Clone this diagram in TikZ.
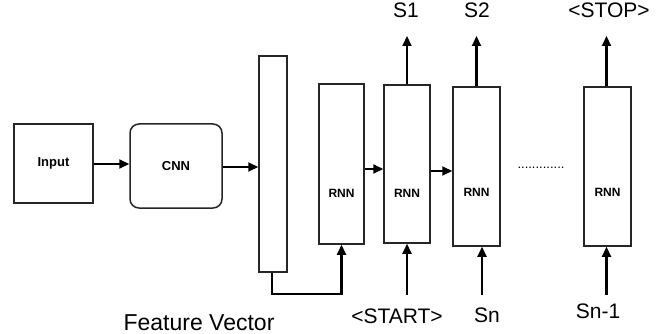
\documentclass[tikz,border=0pt]{standalone}
\usepackage{fontspec}
\setmainfont{Liberation Sans}
\usetikzlibrary{arrows.meta}
\begin{document}
\begin{tikzpicture}[x=1pt,y=-1pt,
  box/.style={draw=black!85, line width=1.5pt, inner sep=0pt},
  rnnbox/.style={box, minimum width=46pt, minimum height=159pt},
  small/.style={font=\bfseries\fontsize{13}{15}\selectfont},
  rnnlab/.style={font=\bfseries\fontsize{12}{14}\selectfont},
  biglab/.style={font=\fontsize{21}{25}\selectfont, inner sep=0pt, anchor=base},
  arr/.style={line width=2.1pt, -{Triangle[length=10pt,width=9pt]}}
]
\useasboundingbox (0,0) rectangle (656,334);
% boxes
\node[box, small, minimum width=79pt, minimum height=79pt] (in) at (53.5,163.5) {Input};
\node[box, small, rounded corners=9pt, minimum width=92pt, minimum height=84pt] (cnn) at (176,166) {CNN};
\node[box, minimum width=28pt, minimum height=216pt] (fv) at (273,164) {};
\node[rnnbox, minimum width=45pt, minimum height=160pt, label={[rnnlab, yshift=-29pt]center:RNN}] (r0) at (341.5,164) {};
\node[rnnbox, minimum height=158pt, label={[rnnlab, yshift=-29pt]center:RNN}] (r1) at (407,164) {};
\node[rnnbox, minimum width=47pt, label={[rnnlab, yshift=-26pt]center:RNN}] (r2) at (476.5,166.5) {};
\node[rnnbox, minimum width=47pt, label={[rnnlab, yshift=-26pt]center:RNN}] (r3) at (607.5,166.5) {};
% dots
\node[font=\fontsize{13}{15}\selectfont, inner sep=0pt] (dots) at (541,168) {.............};
% labels
\node[biglab] (s1) at (406,18) {S1};
\node[biglab] (s2) at (477,18) {S2};
\node[biglab] (stop) at (609,18) {<STOP>};
\node[biglab] (start) at (397,323) {<START>};
\node[biglab] (sn) at (487,322) {Sn};
\node[biglab] (sn1) at (598,318) {Sn-1};
\node[biglab, font=\fontsize{23}{27}\selectfont] (fvl) at (199,330) {Feature Vector};
% connectors
\draw[arr] (in.east |- 0,164) -- (cnn.west |- 0,164);
\draw[arr] (cnn.east |- 0,167) -- (fv.west |- 0,167);
\draw[arr] ([xshift=-1pt]fv.south) -- ++(0,21) -| (r0.south);
\draw[arr] ([yshift=-5pt]r0.east) -- ([yshift=-5pt]r1.west);
\draw[arr] ([yshift=-7pt]r1.east) -- ([yshift=-4.5pt]r2.west);
\draw[arr] (r1.north) -- (r1.north |- 0,36);
\draw[arr] (r2.north) -- (r2.north |- 0,36);
\draw[arr] ([xshift=-1pt]r3.north) -- ([xshift=-1pt]r3.north |- 0,36);
\draw[arr] (r1.south |- 0,295) -- (r1.south);
\draw[arr] ([xshift=5.5pt]r2.south |- 0,295) -- ([xshift=5.5pt]r2.south);
\draw[arr] ([xshift=-1pt]r3.south |- 0,295) -- ([xshift=-1pt]r3.south);
\end{tikzpicture}
\end{document}
